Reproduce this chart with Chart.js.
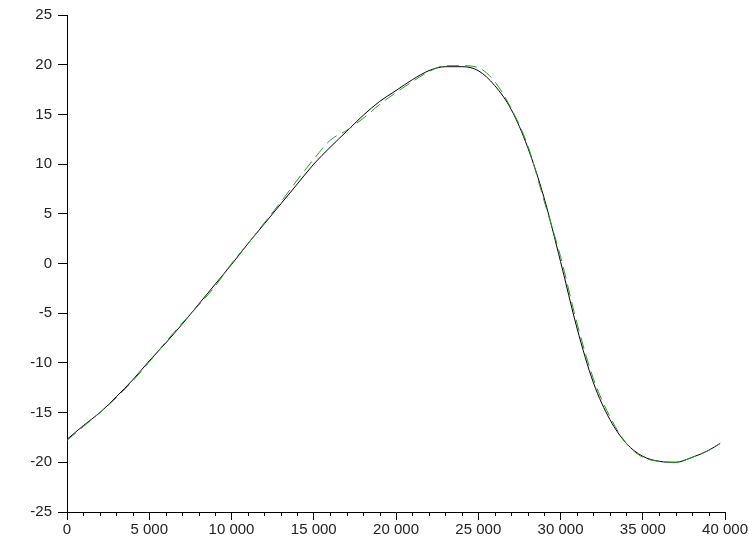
<!DOCTYPE html>
<html>
<head>
<meta charset="utf-8">
<script src="https://cdn.jsdelivr.net/npm/chart.js@4"></script>
<style>
html,body{margin:0;padding:0;background:#fff;}
#wrap{width:749px;height:541px;position:relative;}
</style>
</head>
<body>
<div id="wrap"><canvas id="c" width="749" height="541"></canvas></div>
<script>
const xValues = [0,1000,2000,3000,4000,5000,6000,7000,8000,9000,10000,11000,12000,13000,14000,15000,16000,17000,18000,19000,20000,21000,22000,23000,24000,25000,26000,27000,28000,29000,30000,31000,32000,33000,34000,35000,36000,37000,38000,39000,39700];
const blackSeries = [-17.7,-16.3,-15.0,-13.4,-11.7,-9.8,-8.0,-6.1,-4.1,-2.1,-0.1,2.0,4.0,6.0,8.0,10.0,11.7,13.3,14.9,16.3,17.4,18.5,19.4,19.8,19.8,19.4,17.9,15.5,11.7,6.6,0.2,-6.5,-12.0,-15.7,-18.1,-19.4,-19.9,-20.0,-19.5,-18.8,-18.1];
const greenSeries = [-17.8,-16.4,-15.0,-13.5,-11.8,-9.9,-7.9,-6.0,-4.2,-2.3,0.0,2.0,4.1,6.2,8.4,10.5,12.4,13.4,14.6,16.0,17.2,18.3,19.3,19.9,19.9,19.7,18.3,15.6,11.9,6.3,0.7,-6.0,-11.6,-15.4,-18.1,-19.5,-19.9,-20.0,-19.5,-18.8,-18.1];
const xMajorTicks = [0,5000,10000,15000,20000,25000,30000,35000,40000];
const yTicks = [-25,-20,-15,-10,-5,0,5,10,15,20,25];

function fmt(v){
  const s = String(Math.abs(v)).replace(/\B(?=(\d{3})+(?!\d))/g, ' ');
  return (v < 0 ? '-' : '') + s;
}

const minorTicks = {
  id: 'minorTicks',
  afterDraw(chart){
    const xs = chart.scales.x;
    const ctx = chart.ctx;
    const y0 = chart.chartArea.bottom;
    ctx.save();
    ctx.strokeStyle = '#000';
    ctx.lineWidth = 1;
    ctx.beginPath();
    for (let v = 0; v <= 40000; v += 1000) {
      if (v % 5000 === 0) continue;
      const px = Math.round(xs.getPixelForValue(v)) + 0.5;
      ctx.moveTo(px, y0);
      ctx.lineTo(px, y0 + 4);
    }
    ctx.stroke();
    ctx.restore();
  }
};

const font = {family: '"Liberation Sans", Arial, sans-serif', size: 15};

new Chart(document.getElementById('c'), {
  type: 'line',
  data: {
    datasets: [
      {
        label: 'approx',
        data: xValues.map((x,i)=>({x:x, y:greenSeries[i]})),
        borderColor: '#1fa01f',
        borderWidth: 1,
        borderDash: [12,6],
        pointRadius: 0,
        cubicInterpolationMode: 'monotone',
        fill: false
      },
      {
        label: 'exact',
        data: xValues.map((x,i)=>({x:x, y:blackSeries[i]})),
        borderColor: '#000000',
        borderWidth: 1,
        pointRadius: 0,
        cubicInterpolationMode: 'monotone',
        fill: false
      }
    ]
  },
  options: {
    responsive: false,
    animation: false,
    layout: {padding: {left: 0, right: 22, top: 13, bottom: 0}},
    plugins: {legend: {display: false}, tooltip: {enabled: false}},
    scales: {
      x: {
        type: 'linear',
        min: 0, max: 40000,
        afterBuildTicks(scale){ scale.ticks = xMajorTicks.map(v=>({value:v})); },
        afterFit(scale){ scale.height = 29; },
        ticks: {color: '#222', font: font, padding: 1, maxRotation: 0, autoSkip: false, callback: v => fmt(v)},
        grid: {display: true, drawOnChartArea: false, drawTicks: true, tickLength: 8, color: '#000'},
        border: {display: true, color: '#000', width: 1}
      },
      y: {
        type: 'linear',
        min: -25, max: 25,
        afterBuildTicks(scale){ scale.ticks = yTicks.map(v=>({value:v})); },
        afterFit(scale){ scale.width = 67; },
        ticks: {color: '#222', font: font, padding: 6, autoSkip: false, callback: v => fmt(v)},
        grid: {display: true, drawOnChartArea: false, drawTicks: true, tickLength: 9, color: '#000'},
        border: {display: true, color: '#000', width: 1}
      }
    }
  },
  plugins: [minorTicks]
});
</script>
</body>
</html>
